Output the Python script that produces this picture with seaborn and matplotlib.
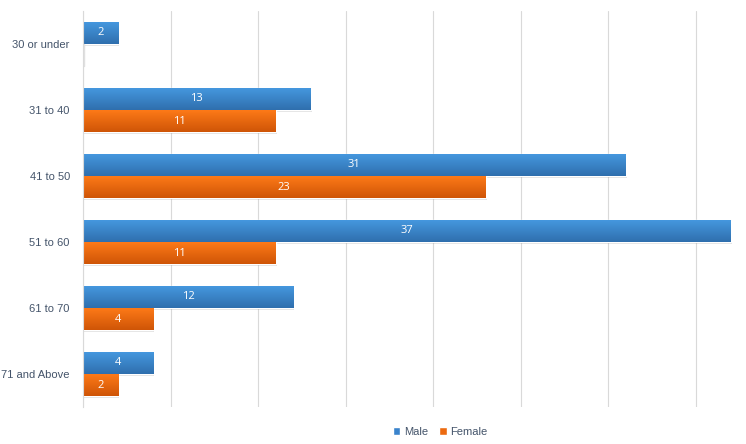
import matplotlib
matplotlib.use("Agg")
import matplotlib.pyplot as plt
import seaborn as sns
import pandas as pd
import numpy as np
from matplotlib.colors import LinearSegmentedColormap
from matplotlib.patches import Patch

categories = ["30 or under", "31 to 40", "41 to 50", "51 to 60", "61 to 70", "71 and Above"]
male = [2, 13, 31, 37, 12, 4]
female = [0, 11, 23, 11, 4, 2]
series = ["Male", "Female"]

df = pd.DataFrame({
    "Age": categories * 2,
    "Count": male + female,
    "Sex": ["Male"] * len(categories) + ["Female"] * len(categories),
})

sns.set_style("white")
plt.rcParams['font.family'] = ['Liberation Sans', 'DejaVu Sans']

fig = plt.figure(figsize=(7.46, 4.44), dpi=100)
ax = fig.add_axes([83/746, 37/444, (735-83)/746, (407-11)/444])

palette = {"Male": "#3a83cc", "Female": "#ec6a10"}
sns.barplot(data=df, y="Age", x="Count", hue="Sex", order=categories,
            hue_order=series, palette=palette, width=0.67, orient="h",
            ax=ax, legend=False, saturation=1)

grads = {
    "Male": LinearSegmentedColormap.from_list("m", ["#4699e0", "#2f6fae"]),
    "Female": LinearSegmentedColormap.from_list("f", ["#ff7b18", "#cf5507"]),
}

ax.set_xlim(0, 37.25)
ax.set_ylim(len(categories) - 0.5, -0.5)

for cont, name in zip(ax.containers, series):
    for patch, val in zip(cont.patches, cont.datavalues):
        x0, y0 = patch.get_x(), patch.get_y()
        w, h = patch.get_width(), patch.get_height()
        if w > 0:
            ax.add_patch(plt.Rectangle((x0 + 0.08, y0 + 0.03), w, h, color="#000000",
                                       alpha=0.12, zorder=patch.get_zorder() - 0.1, lw=0))
            grad = np.linspace(0, 1, 50).reshape(-1, 1)
            im = ax.imshow(grad, cmap=grads[name], aspect="auto",
                           extent=(x0, x0 + w, y0 + h, y0), zorder=patch.get_zorder() + 0.1,
                           interpolation="bilinear")
            im.set_clip_path(patch)
            ax.text(x0 + w / 2, y0 + h / 2, f"{int(val)}", ha="center", va="center",
                    color="white", fontsize=8, zorder=5, family=["Open Sans", "DejaVu Sans"])
        else:
            ax.plot([0.06, 0.06], [y0, y0 + h], color="#e0e0e0", lw=1.0, zorder=3)

ax.set_xlim(0, 37.25)
ax.set_ylim(len(categories) - 0.5, -0.5)

ax.set_xticks(np.arange(0, 40, 5))
ax.xaxis.grid(True, color="#d9d9d9", lw=0.8)
ax.set_axisbelow(True)
ax.set_xticklabels([])
ax.tick_params(axis="x", length=0)
ax.tick_params(axis="y", length=0, labelsize=8, labelcolor="#44546a", pad=9.5)
ax.set_xlabel("")
ax.set_ylabel("")
for s in ["top", "right", "bottom"]:
    ax.spines[s].set_visible(False)
ax.spines["left"].set_color("#d9d9d9")
ax.spines["left"].set_linewidth(0.8)

handles = [Patch(facecolor="#3a83cc", label="Male"), Patch(facecolor="#ec6a10", label="Female")]
fig.legend(handles=handles, loc="center", bbox_to_anchor=(440/746, 1 - 432/444), ncol=2,
           frameon=False, fontsize=8, handlelength=0.7, handleheight=0.7,
           handletextpad=0.3, columnspacing=1.0, labelcolor="#44546a")

fig.savefig("out.png", dpi=100)
